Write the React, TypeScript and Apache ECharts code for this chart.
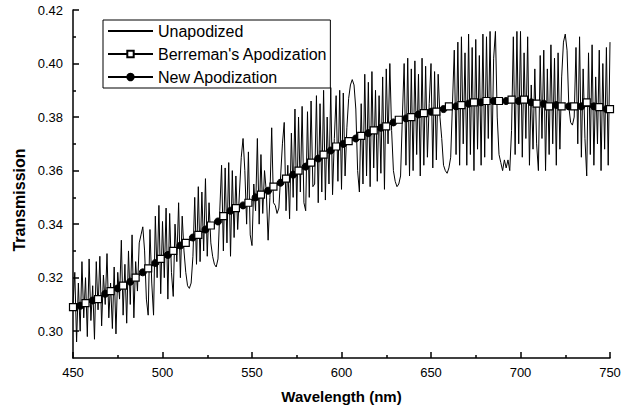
import React, { useEffect, useRef } from 'react';
import * as echarts from 'echarts';

const FONT = '"Liberation Sans", Arial, Helvetica, sans-serif';

// Unapodized: sampled every 1 nm from 450 nm
const UNAP_START = 450;
const UNAP_STEP = 1;
const unapodized = [
  0.310, 0.322, 0.296, 0.318, 0.300, 0.326, 0.305, 0.320, 0.298, 0.327,
  0.304, 0.317, 0.297, 0.326, 0.308, 0.328, 0.302, 0.321, 0.310, 0.329,
  0.305, 0.318, 0.301, 0.324, 0.299, 0.322, 0.312, 0.334, 0.306, 0.325,
  0.303, 0.330, 0.310, 0.336, 0.305, 0.326, 0.315, 0.333, 0.336, 0.339,
  0.330, 0.312, 0.306, 0.338, 0.318, 0.306, 0.343, 0.320, 0.347, 0.314,
  0.341, 0.320, 0.346, 0.312, 0.344, 0.322, 0.313, 0.340, 0.326, 0.348,
  0.320, 0.343, 0.330, 0.322, 0.317, 0.316, 0.318, 0.328, 0.350, 0.325,
  0.354, 0.326, 0.352, 0.330, 0.357, 0.328, 0.348, 0.333, 0.328, 0.325,
  0.324, 0.327, 0.345, 0.362, 0.330, 0.361, 0.333, 0.363, 0.328, 0.360,
  0.335, 0.358, 0.338, 0.352, 0.365, 0.372, 0.360, 0.340, 0.367, 0.336,
  0.332, 0.355, 0.345, 0.372, 0.340, 0.366, 0.344, 0.360, 0.352, 0.334,
  0.350, 0.376, 0.348, 0.347, 0.344, 0.346, 0.358, 0.370, 0.378, 0.345,
  0.362, 0.342, 0.374, 0.350, 0.383, 0.345, 0.380, 0.352, 0.384, 0.348,
  0.345, 0.382, 0.350, 0.386, 0.354, 0.355, 0.388, 0.348, 0.385, 0.352,
  0.390, 0.349, 0.380, 0.355, 0.391, 0.351, 0.372, 0.388, 0.356, 0.390,
  0.353, 0.389, 0.358, 0.376, 0.387, 0.392, 0.394, 0.392, 0.383, 0.360,
  0.352, 0.385, 0.355, 0.396, 0.358, 0.393, 0.354, 0.397, 0.361, 0.390,
  0.356, 0.388, 0.359, 0.395, 0.353, 0.398, 0.370, 0.400, 0.375, 0.360,
  0.356, 0.354, 0.355, 0.358, 0.380, 0.400, 0.362, 0.402, 0.358, 0.398,
  0.360, 0.401, 0.366, 0.396, 0.358, 0.402, 0.362, 0.399, 0.365, 0.385,
  0.400, 0.361, 0.397, 0.364, 0.396, 0.380, 0.372, 0.362, 0.360, 0.359,
  0.361, 0.365, 0.385, 0.405, 0.366, 0.408, 0.362, 0.410, 0.370, 0.404,
  0.362, 0.411, 0.366, 0.406, 0.360, 0.409, 0.368, 0.403, 0.362, 0.411,
  0.365, 0.410, 0.372, 0.412, 0.364, 0.402, 0.412, 0.380, 0.366, 0.363,
  0.360, 0.364, 0.361, 0.364, 0.360, 0.375, 0.410, 0.366, 0.412, 0.370,
  0.412, 0.365, 0.404, 0.372, 0.410, 0.362, 0.392, 0.368, 0.398, 0.370,
  0.360, 0.403, 0.372, 0.405, 0.360, 0.398, 0.366, 0.407, 0.370, 0.402,
  0.362, 0.404, 0.368, 0.395, 0.408, 0.411, 0.405, 0.384, 0.378, 0.377,
  0.380, 0.406, 0.370, 0.410, 0.365, 0.398, 0.372, 0.358, 0.404, 0.366,
  0.407, 0.362, 0.395, 0.370, 0.405, 0.360, 0.400, 0.368, 0.406, 0.362,
  0.408,
];

const berremanX = [
  450, 457, 464, 471, 478, 485, 492, 499, 506, 513, 520, 527, 534, 541, 548,
  555, 562, 569, 576, 583, 590, 597, 604, 611, 618, 625, 632, 639, 646, 653,
  660, 667, 674, 681, 688, 695, 702, 709, 716, 723, 730, 737, 744, 750,
];
const berremanY = [
  0.309, 0.3105, 0.312, 0.315, 0.317, 0.320, 0.3235, 0.327, 0.330, 0.333,
  0.336, 0.3395, 0.343, 0.346, 0.348, 0.351, 0.354, 0.357, 0.360, 0.363,
  0.366, 0.369, 0.371, 0.373, 0.375, 0.3765, 0.379, 0.380, 0.3815, 0.382,
  0.384, 0.3845, 0.3855, 0.386, 0.386, 0.3865, 0.3865, 0.385, 0.384, 0.384,
  0.384, 0.3855, 0.3837, 0.383,
];

const newX = [
  454, 461, 468, 475, 482, 489, 496, 503, 510, 517, 524, 531, 538, 545, 552,
  559, 566, 573, 580, 587, 594, 601, 608, 615, 622, 629, 636, 643, 650, 657,
  664, 671, 678, 685, 692, 699, 706, 713, 720, 727, 734, 741, 748,
];
const newY = [
  0.3095, 0.3115, 0.314, 0.316, 0.3185, 0.322, 0.3255, 0.3285, 0.332, 0.335,
  0.338, 0.341, 0.345, 0.347, 0.350, 0.3525, 0.3555, 0.3585, 0.3615, 0.3645,
  0.3675, 0.370, 0.372, 0.374, 0.376, 0.378, 0.3795, 0.381, 0.382, 0.383,
  0.384, 0.385, 0.3855, 0.386, 0.386, 0.386, 0.3855, 0.385, 0.3845, 0.384,
  0.384, 0.384, 0.383,
];

const xMajorTicks = [450, 500, 550, 600, 650, 700, 750];
const xMinorTicks = [475, 525, 575, 625, 675, 725];
const yMajorTicks = [0.30, 0.32, 0.34, 0.36, 0.38, 0.40, 0.42];
const yMinorTicks = [0.31, 0.33, 0.35, 0.37, 0.39, 0.41];

const SERIES_NAMES = ['Unapodized', "Berreman's Apodization", 'New Apodization'];
const X_TITLE = 'Wavelength (nm)';
const Y_TITLE = 'Transmission';

export default function App() {
  const ref = useRef<HTMLDivElement>(null);
  useEffect(() => {
    if (!ref.current) return;
    const chart = echarts.init(ref.current, null, { renderer: 'svg' });
    const unapData = unapodized.map((v, i) => [UNAP_START + i * UNAP_STEP, v]);
    const bData = berremanX.map((x, i) => [x, berremanY[i]]);
    const nData = newX.map((x, i) => [x, newY[i]]);
    const axisBase = {
      type: 'value' as const,
      splitLine: { show: false },
    };
    chart.setOption({
      animation: false,
      backgroundColor: '#fff',
      textStyle: { fontFamily: FONT },
      grid: { left: 73, right: 22, top: 10, bottom: 54 },
      legend: {
        left: 103,
        top: 20,
        orient: 'vertical',
        itemWidth: 45,
        itemHeight: 8,
        itemGap: 7,
        borderColor: '#000',
        borderWidth: 1,
        borderRadius: 0,
        padding: [3, 3, 3, 4],
        textStyle: { fontSize: 16, color: '#000', fontFamily: FONT },
        data: [
          { name: SERIES_NAMES[0], itemStyle: { color: 'rgba(0,0,0,0)', borderColor: 'rgba(0,0,0,0)', borderWidth: 0 } },
          { name: SERIES_NAMES[1] },
          { name: SERIES_NAMES[2] },
        ],
      },
      graphic: [
        {
          type: 'text',
          x: 19,
          y: 200,
          rotation: Math.PI / 2,
          style: {
            text: Y_TITLE,
            fill: '#000',
            font: `bold 16px ${FONT}`,
            textAlign: 'center',
            textVerticalAlign: 'middle',
          },
        },
      ],
      xAxis: [
        {
          ...axisBase,
          min: 450,
          max: 750,
          position: 'bottom',
          name: X_TITLE,
          nameLocation: 'middle',
          nameGap: 31,
          nameTextStyle: { fontSize: 15, fontWeight: 'bold', color: '#000', fontFamily: FONT },
          axisLine: { show: true, lineStyle: { color: '#000', width: 1.5 } },
          axisTick: { show: true, inside: true, length: 6, customValues: xMajorTicks, lineStyle: { color: '#000', width: 1.5 } },
          axisLabel: { show: true, customValues: xMajorTicks, color: '#000', fontSize: 13, margin: 8, fontFamily: FONT },
        },
        {
          ...axisBase,
          min: 450,
          max: 750,
          position: 'bottom',
          axisLine: { show: false },
          axisTick: { show: true, inside: true, length: 3, customValues: xMinorTicks, lineStyle: { color: '#000', width: 1.5 } },
          axisLabel: { show: false },
        },
      ],
      yAxis: [
        {
          ...axisBase,
          min: 0.29,
          max: 0.42,
          position: 'left',
          axisLine: { show: true, lineStyle: { color: '#000', width: 1.5 } },
          axisTick: { show: true, inside: true, length: 6, customValues: yMajorTicks, lineStyle: { color: '#000', width: 1.5 } },
          axisLabel: {
            show: true,
            customValues: yMajorTicks,
            color: '#000',
            fontSize: 13,
            margin: 10,
            fontFamily: FONT,
            formatter: (v: number) => v.toFixed(2),
          },
        },
        {
          ...axisBase,
          min: 0.29,
          max: 0.42,
          position: 'left',
          axisLine: { show: false },
          axisTick: { show: true, inside: true, length: 3, customValues: yMinorTicks, lineStyle: { color: '#000', width: 1.5 } },
          axisLabel: { show: false },
        },
      ],
      series: [
        {
          name: SERIES_NAMES[0],
          type: 'line',
          xAxisIndex: 0,
          yAxisIndex: 0,
          data: unapData,
          symbol: 'none',
          lineStyle: { color: '#000', width: 1 },
          itemStyle: { color: '#000' },
        },
        {
          name: SERIES_NAMES[2],
          type: 'line',
          xAxisIndex: 0,
          yAxisIndex: 0,
          data: nData,
          symbol: 'circle',
          symbolSize: 7,
          showAllSymbol: true,
          lineStyle: { color: '#000', width: 1.5 },
          itemStyle: { color: '#000', borderColor: '#000', borderWidth: 1 },
        },
        {
          name: SERIES_NAMES[1],
          type: 'line',
          xAxisIndex: 0,
          yAxisIndex: 0,
          data: bData,
          symbol: 'rect',
          symbolSize: 7,
          showAllSymbol: true,
          lineStyle: { color: '#000', width: 1.5 },
          itemStyle: { color: '#fff', borderColor: '#000', borderWidth: 1.2 },
        },
      ],
    });
    return () => chart.dispose();
  }, []);
  return (
    <div
      ref={ref}
      style={{ position: 'fixed', left: 0, top: 0, width: 632, height: 412, background: '#fff' }}
    />
  );
}
